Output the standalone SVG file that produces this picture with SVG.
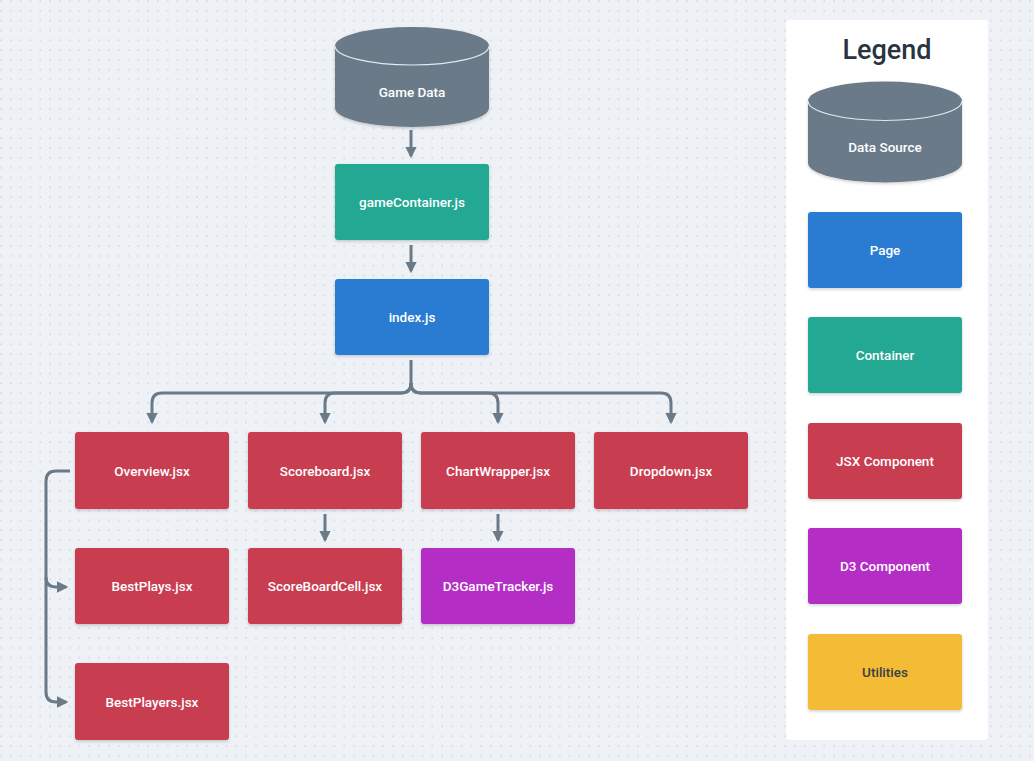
<svg xmlns="http://www.w3.org/2000/svg" width="1034" height="761" viewBox="0 0 1034 761">
<defs>
<pattern id="dots" x="0" y="0" width="9.8" height="9.8" patternUnits="userSpaceOnUse">
<rect x="0.5" y="0.5" width="1.2" height="1.2" fill="#bac4d0"/>
</pattern>
<filter id="sh" x="-10%" y="-10%" width="120%" height="130%">
<feDropShadow dx="0" dy="1.5" stdDeviation="1.5" flood-color="#000" flood-opacity="0.18"/>
</filter>
<marker id="ah" viewBox="0 0 10 10" refX="8" refY="5" markerWidth="3.8" markerHeight="3.8" orient="auto" markerUnits="strokeWidth">
<path d="M0,0 L10,5 L0,10 Z" fill="#6b7a89"/>
</marker>
<style>
.box{filter:url(#sh);}
.lbl{font-family:Roboto,"Liberation Sans",sans-serif;font-size:13.5px;font-weight:500;fill:#ffffff;text-anchor:middle;dominant-baseline:central;}
.dk{fill:#3a4047;}
.red{fill:#c93e51;}
.blue{fill:#2c7bd2;}
.teal{fill:#20a893;}
.purple{fill:#b42ec6;}
.yellow{fill:#f4bb36;}
.cyl{fill:#6b7a89;}
.conn{fill:none;stroke:#6b7a89;stroke-width:3;}
</style>
</defs>
<rect width="1034" height="761" fill="#eef1f5"/>
<rect width="1034" height="761" fill="url(#dots)"/>

<g id="connectors">
<path class="conn" d="M411,130 V156" marker-end="url(#ah)"/>
<path class="conn" d="M411,245 V271" marker-end="url(#ah)"/>
<path class="conn" d="M411,360 V383 Q411,393 401,393 H162 Q152,393 152,403 V422" marker-end="url(#ah)"/>
<path class="conn" d="M411,383 Q411,393 401,393 H335 Q325,393 325,403 V422"  marker-end="url(#ah)"/>
<path class="conn" d="M411,383 Q411,393 421,393 H488 Q498,393 498,403 V422" marker-end="url(#ah)"/>
<path class="conn" d="M411,383 Q411,393 421,393 H661 Q671,393 671,403 V422" marker-end="url(#ah)"/>
<path class="conn" d="M325,514 V540" marker-end="url(#ah)"/>
<path class="conn" d="M498,514 V540" marker-end="url(#ah)"/>
<path class="conn" d="M70,471 H56 Q46,471 46,481 V692 Q46,702 56,702 H66" marker-end="url(#ah)"/>
<path class="conn" d="M46,577 Q46,587 56,587 H66" marker-end="url(#ah)"/>
</g>

<g id="game-data">
<path class="cyl box" d="M335,46 A77,19 0 0 1 489,46 V108 A77,19 0 0 1 335,108 Z"/>
<path d="M335,46 A77,19 0 0 0 489,46" fill="none" stroke="#e6e9ed" stroke-width="1.2"/>
<text class="lbl" x="412" y="92">Game Data</text>
</g>
<g id="gameContainer">
<rect class="teal box" x="335" y="164" width="154" height="76" rx="3"/>
<text class="lbl" x="412" y="202">gameContainer.js</text>
</g>
<g id="index">
<rect class="blue box" x="335" y="279" width="154" height="76" rx="3"/>
<text class="lbl" x="412" y="317">index.js</text>
</g>
<g id="overview">
<rect class="red box" x="75" y="432" width="154" height="77" rx="3"/>
<text class="lbl" x="152" y="470.5">Overview.jsx</text>
</g>
<g id="scoreboard">
<rect class="red box" x="248" y="432" width="154" height="77" rx="3"/>
<text class="lbl" x="325" y="470.5">Scoreboard.jsx</text>
</g>
<g id="chartwrapper">
<rect class="red box" x="421" y="432" width="154" height="77" rx="3"/>
<text class="lbl" x="498" y="470.5">ChartWrapper.jsx</text>
</g>
<g id="dropdown">
<rect class="red box" x="594" y="432" width="154" height="77" rx="3"/>
<text class="lbl" x="671" y="470.5">Dropdown.jsx</text>
</g>
<g id="bestplays">
<rect class="red box" x="75" y="548" width="154" height="76" rx="3"/>
<text class="lbl" x="152" y="586">BestPlays.jsx</text>
</g>
<g id="scoreboardcell">
<rect class="red box" x="248" y="548" width="154" height="76" rx="3"/>
<text class="lbl" x="325" y="586">ScoreBoardCell.jsx</text>
</g>
<g id="d3gametracker">
<rect class="purple box" x="421" y="548" width="154" height="76" rx="3"/>
<text class="lbl" x="498" y="586">D3GameTracker.js</text>
</g>
<g id="bestplayers">
<rect class="red box" x="75" y="663" width="154" height="77" rx="3"/>
<text class="lbl" x="152" y="701.5">BestPlayers.jsx</text>
</g>

<g id="legend">
<rect x="786" y="20" width="202" height="720" rx="3" fill="#ffffff"/>
<text x="887" y="50" font-family="Roboto,'Liberation Sans',sans-serif" font-size="27" font-weight="500" fill="#2a3440" text-anchor="middle" dominant-baseline="central">Legend</text>
<g id="legend-data">
<path class="cyl box" d="M808,101 A77,19.5 0 0 1 962,101 V163 A77,19.5 0 0 1 808,163 Z"/>
<path d="M808,101 A77,19.5 0 0 0 962,101" fill="none" stroke="#e6e9ed" stroke-width="1.2"/>
<text class="lbl" x="885" y="147">Data Source</text>
</g>
<g id="legend-page">
<rect class="blue box" x="808" y="212" width="154" height="76" rx="3"/>
<text class="lbl" x="885" y="250">Page</text>
</g>
<g id="legend-container">
<rect class="teal box" x="808" y="317" width="154" height="76" rx="3"/>
<text class="lbl" x="885" y="355">Container</text>
</g>
<g id="legend-jsx">
<rect class="red box" x="808" y="423" width="154" height="76" rx="3"/>
<text class="lbl" x="885" y="461">JSX Component</text>
</g>
<g id="legend-d3">
<rect class="purple box" x="808" y="528" width="154" height="76" rx="3"/>
<text class="lbl" x="885" y="566">D3 Component</text>
</g>
<g id="legend-utilities">
<rect class="yellow box" x="808" y="634" width="154" height="76" rx="3"/>
<text class="lbl dk" x="885" y="672">Utilities</text>
</g>
</g>
</svg>
